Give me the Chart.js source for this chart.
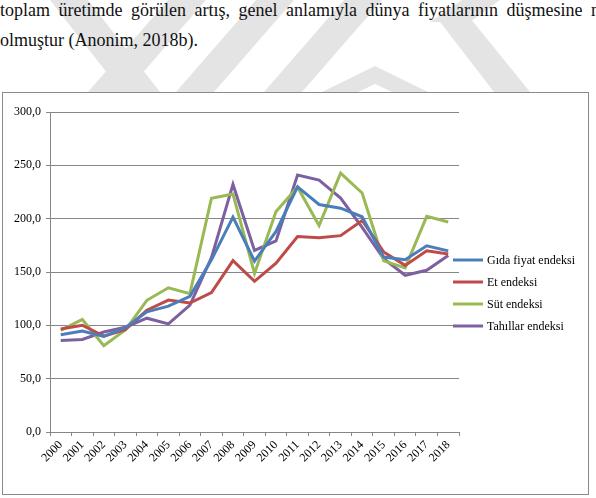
<!DOCTYPE html>
<html>
<head>
<meta charset="utf-8">
<script src="https://cdn.jsdelivr.net/npm/chart.js@4.4.1/dist/chart.umd.min.js"></script>
<style>
html,body{margin:0;padding:0;background:#fff;width:596px;height:498px;overflow:hidden;position:relative;}
#wm{position:absolute;left:0;top:0;}
#para{position:absolute;left:0;top:-5px;width:634px;font-family:"Liberation Serif","DejaVu Serif",serif;font-size:18px;line-height:30px;text-align:justify;color:#111;}
#box{position:absolute;left:2px;top:92px;width:585px;height:401px;border:1px solid #8a8a8a;background:#fff;}
#c{position:absolute;left:0;top:0;}
</style>
</head>
<body>
<svg id="wm" width="596" height="92" viewBox="0 0 596 92">
  <g fill="#e4e4e4">
    <polygon points="50,0 88,0 160,92 122,92"/>
    <polygon points="88,92 126,92 206,0 168,0"/>
    <polygon points="176,92 214,92 294,0 256,0"/>
    <polygon points="264,92 302,92 382,0 344,0"/>
    <polygon points="322,92 375,66 428,92 392,92 375,84 358,92"/>
    <polygon points="430,22 462,0 500,0 470,22"/>
    <polygon points="437,18 470,18 530,92 494,92"/>
  </g>
</svg>
<div id="para">toplam üretimde görülen artış, genel anlamıyla dünya fiyatlarının düşmesine neden olmuştur (Anonim, 2018b).</div>
<div id="box"><canvas id="c" width="585" height="401"></canvas></div>
<script>
const years = ['2000','2001','2002','2003','2004','2005','2006','2007','2008','2009','2010','2011','2012','2013','2014','2015','2016','2017','2018'];
const seriesNames = ['Gıda fiyat endeksi','Et endeksi','Süt endeksi','Tahıllar endeksi'];
const gida   = [91.1, 94.6, 89.6, 97.7, 112.7, 118.0, 127.2, 161.4, 201.4, 160.3, 188.0, 229.9, 213.3, 209.8, 201.8, 164.0, 161.5, 174.6, 169.8];
const et     = [96.5, 100.1, 89.9, 95.9, 114.2, 123.7, 120.9, 130.8, 160.7, 141.3, 158.3, 183.3, 182.0, 184.1, 198.3, 168.8, 156.2, 169.8, 166.8];
const sut    = [95.3, 105.5, 80.9, 95.6, 123.5, 135.2, 129.7, 219.1, 223.1, 148.6, 206.6, 229.5, 193.6, 242.7, 224.1, 160.5, 153.8, 202.2, 196.9];
const tahil  = [85.8, 86.8, 93.7, 98.2, 106.7, 101.3, 118.9, 163.4, 232.1, 170.2, 179.2, 240.9, 236.1, 219.3, 191.9, 162.4, 146.9, 151.6, 165.4];
const yTickLabels = ['0,0','50,0','100,0','150,0','200,0','250,0','300,0'];

const colors = ['#4A7EBB','#BE4B48','#98B954','#7D60A0'];
const FONT = '"Liberation Serif", "DejaVu Serif", serif';

const sideLegend = {
  id: 'sideLegend',
  afterDraw(chart) {
    const ctx = chart.ctx;
    ctx.save();
    ctx.font = '12px ' + FONT;
    ctx.textBaseline = 'middle';
    ctx.textAlign = 'left';
    chart.data.datasets.forEach((ds, i) => {
      const y = 167 + i * 22;
      ctx.strokeStyle = ds.borderColor;
      ctx.lineWidth = 3;
      ctx.beginPath();
      ctx.moveTo(450, y);
      ctx.lineTo(480, y);
      ctx.stroke();
      ctx.fillStyle = '#000';
      ctx.fillText(ds.label, 484, y + 1);
    });
    ctx.restore();
  }
};

const values = [gida, et, sut, tahil];
new Chart(document.getElementById('c'), {
  type: 'line',
  data: {
    labels: years,
    datasets: values.map((v, i) => ({
      label: seriesNames[i],
      data: v,
      borderColor: colors[i],
      backgroundColor: colors[i],
      borderWidth: 3,
      pointRadius: 0,
      tension: 0,
      fill: false
    }))
  },
  options: {
    responsive: false,
    animation: false,
    layout: { padding: { left: 0, top: 19, right: 129, bottom: 0 } },
    plugins: { legend: { display: false }, tooltip: { enabled: false } },
    scales: {
      x: {
        offset: true,
        grid: { offset: true, drawOnChartArea: false, drawTicks: true, tickLength: 4, color: '#868686' },
        border: { color: '#868686' },
        ticks: { minRotation: 45, maxRotation: 45, autoSkip: false, color: '#000', padding: 2, font: { family: FONT, size: 12 } },
        afterFit: s => { s.height = 62; }
      },
      y: {
        min: 0, max: 300,
        grid: { color: '#868686', tickLength: 4 },
        border: { color: '#868686' },
        ticks: { stepSize: 50, padding: 5, color: '#000', font: { family: FONT, size: 12 },
                 callback: (v) => yTickLabels[Math.round(v / 50)] },
        afterFit: s => { s.width = 47; }
      }
    }
  },
  plugins: [sideLegend]
});
</script>
</body>
</html>
